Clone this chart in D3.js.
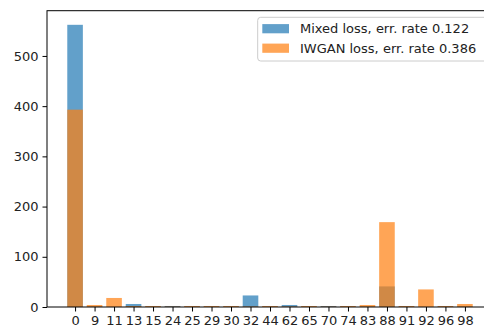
<!DOCTYPE html>
<html>
<head>
<meta charset="utf-8">
<script src="https://cdn.jsdelivr.net/npm/d3@7"></script>
<style>
  html, body { margin: 0; padding: 0; background: #fff; }
  svg { display: block; font-family: "DejaVu Sans", sans-serif; }
</style>
</head>
<body>
<div id="root"></div>
<script>
// categories (class labels on the x axis)
const categories = ["0", "9", "11", "13", "15", "24", "25", "29", "30", "32", "44",
                    "62", "65", "70", "74", "83", "88", "91", "92", "96", "98"];
// counts per category
const mixedValues = [562, 1, 0, 6, 1, 2, 1, 1, 1, 23, 1, 4, 1, 2, 1, 1, 41, 1, 0, 1, 1];
const iwganValues = [393, 4, 18, 2, 2, 1, 2, 2, 2, 1, 2, 1, 2, 1, 2, 4, 169, 2, 35, 2, 6];
const seriesNames = ["Mixed loss, err. rate 0.122", "IWGAN loss, err. rate 0.386"];
const yTicks = [0, 100, 200, 300, 400, 500];

const outerWidth = 484;
const outerHeight = 329;
const margin = { top: 10.7, right: -9, bottom: 22, left: 47 };
const width = outerWidth - margin.left - margin.right;
const height = outerHeight - margin.top - margin.bottom;

const colors = ["#1f77b4", "#ff7f0e"];
const barWidth = 0.8;

// matplotlib-like 5% margins around the bars
const xPad = (categories.length - 1 + barWidth) * 0.05;
let scaleX = d3.scaleLinear()
    .domain([-barWidth / 2 - xPad, categories.length - 1 + barWidth / 2 + xPad])
    .range([0, width]);
let scaleY = d3.scaleLinear()
    .domain([0, d3.max(mixedValues.concat(iwganValues)) * 1.05])
    .range([height, 0]);

let svg = d3.select("#root").append("svg")
    .attr("width", outerWidth)
    .attr("height", outerHeight);

let chart = svg.append("g")
    .attr("transform", `translate(${margin.left}, ${margin.top})`);

[mixedValues, iwganValues].forEach((values, s) => {
    chart.append("g").selectAll("rect")
        .data(values)
        .enter().append("rect")
        .attr("x", (d, i) => scaleX(i - barWidth / 2))
        .attr("width", (d, i) => scaleX(i + barWidth / 2) - scaleX(i - barWidth / 2))
        .attr("y", d => scaleY(d))
        .attr("height", d => height - scaleY(d))
        .attr("fill", colors[s])
        .attr("fill-opacity", 0.7);
});

let xAxis = d3.axisBottom(scaleX)
    .tickValues(d3.range(categories.length))
    .tickFormat(i => categories[i])
    .tickSize(4.5)
    .tickPadding(4);
let yAxis = d3.axisLeft(scaleY)
    .tickValues(yTicks)
    .tickSize(4.5)
    .tickPadding(4);

let gx = chart.append("g")
    .attr("transform", `translate(0, ${height})`)
    .call(xAxis);
let gy = chart.append("g").call(yAxis);

[gx, gy].forEach(g => {
    g.select(".domain").remove();
    g.selectAll(".tick line").attr("stroke", "#000").attr("stroke-width", 1);
    g.selectAll(".tick text")
        .attr("fill", "#222")
        .style("font-size", "13px")
        .style("font-family", "DejaVu Sans");
});

// frame
chart.append("rect")
    .attr("x", 0).attr("y", 0)
    .attr("width", width).attr("height", height)
    .attr("fill", "none")
    .attr("stroke", "#000")
    .attr("stroke-width", 1);

// legend
let legend = chart.append("g")
    .attr("transform", `translate(${257.7 - margin.left}, ${17.3 - margin.top})`);
legend.append("rect")
    .attr("width", 240).attr("height", 43.7)
    .attr("rx", 3)
    .attr("fill", "#fff").attr("fill-opacity", 0.8)
    .attr("stroke", "#ccc");
seriesNames.forEach((name, s) => {
    let row = legend.append("g").attr("transform", `translate(0, ${11.4 + s * 19.5})`);
    row.append("rect")
        .attr("x", 4.6).attr("y", -4.6)
        .attr("width", 26.7).attr("height", 9.2)
        .attr("fill", colors[s]).attr("fill-opacity", 0.7);
    row.append("text")
        .attr("x", 42.3).attr("dy", "0.35em")
        .attr("fill", "#222")
        .style("font-size", "13px")
        .text(name);
});
</script>
</body>
</html>
